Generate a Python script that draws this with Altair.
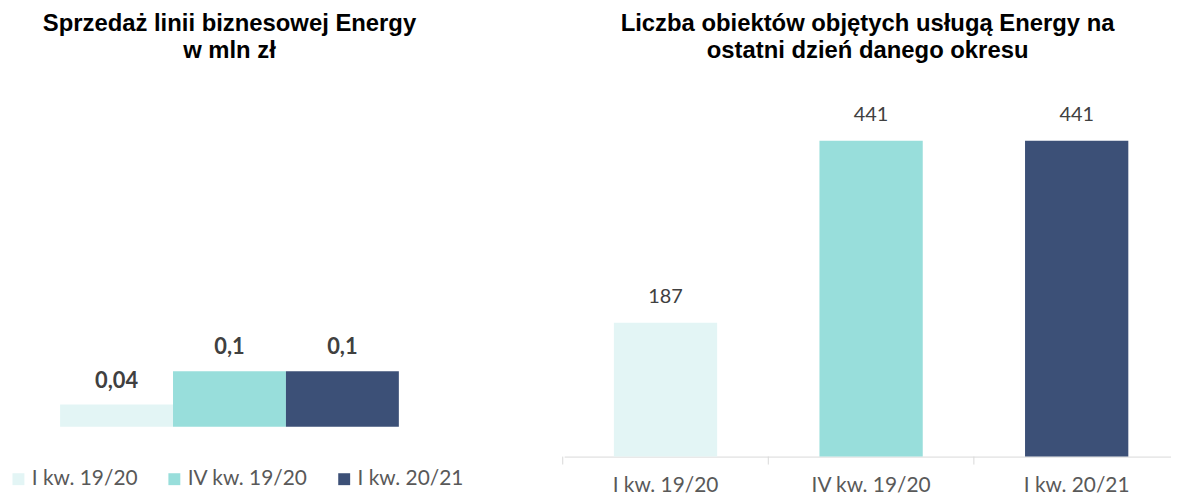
import altair as alt
import pandas as pd

categories = ["I kw. 19/20", "IV kw. 19/20", "I kw. 20/21"]
sales = [0.04, 0.1, 0.1]
objects = [187, 441, 441]
colors = ["#E3F5F5", "#98DEDB", "#3C5077"]

title_left = ["Sprzedaż linii biznesowej Energy", "w mln zł"]
title_right = ["Liczba obiektów objętych usługą Energy na", "ostatni dzień danego okresu"]

df_l = pd.DataFrame({"kategoria": categories, "wartosc": sales})
df_r = pd.DataFrame({"kategoria": categories, "liczba": objects})

def make_title(lines):
    return alt.TitleParams(
        text=lines, font="Liberation Sans", fontSize=24, fontWeight="bold",
        color="#000000", anchor="middle", lineHeight=28, offset=10,
    )

# ---------- left panel ----------
base_l = alt.Chart(df_l).encode(
    x=alt.X("kategoria:N", sort=categories, axis=None,
            scale=alt.Scale(paddingInner=0, paddingOuter=0.4614)),
    y=alt.Y("wartosc:Q", axis=None,
            scale=alt.Scale(domain=[0, 0.6357], nice=False, zero=True)),
)
bars_l = base_l.mark_bar().encode(
    color=alt.Color(
        "kategoria:N", sort=categories,
        scale=alt.Scale(domain=categories, range=colors),
        legend=alt.Legend(
            title=None, orient="none", legendX=0, legendY=398,
            direction="horizontal", symbolType="square", symbolSize=144,
            symbolStrokeWidth=0, labelFont="Lato", labelFontSize=21,
            labelColor="#595959", columnPadding=26, labelOffset=3, padding=0,
        ),
    )
)
text_l = base_l.transform_calculate(
    etykieta="replace(toString(datum.wartosc), '.', ',')"
).mark_text(
    font="Lato", fontWeight="bold", fontSize=22, color="#404040",
    baseline="middle", dy=-24,
).encode(text="etykieta:N")

left = alt.layer(bars_l, text_l).properties(
    width=446, height=356, title=make_title(title_left)
)

# ---------- right panel ----------
x_r = alt.X("kategoria:N", sort=categories, title=None,
            scale=alt.Scale(paddingInner=0.4976, paddingOuter=0.2247, align=0.538),
            axis=alt.Axis(labelAngle=0, labelFont="Lato", labelFontSize=21,
                          labelColor="#595959", domainColor="#D9D9D9",
                          ticks=False, labelPadding=18, domainWidth=1))
base_r = alt.Chart(df_r).encode(
    x=x_r,
    y=alt.Y("liczba:Q", axis=None,
            scale=alt.Scale(domain=[0, 535.4], nice=False, zero=True)),
)
bars_r = base_r.mark_bar().encode(
    color=alt.Color("kategoria:N", sort=categories,
                    scale=alt.Scale(domain=categories, range=colors),
                    legend=None)
)
text_r = base_r.mark_text(
    font="Lato", fontSize=20, color="#404040", baseline="middle", dy=-26,
).encode(text="liczba:Q")

# tick marks at the boundaries between categories
ticks_r = alt.Chart(df_r).mark_rule(color="#D9D9D9", strokeWidth=1, xOffset=-103.5).encode(
    x=alt.X("kategoria:N", sort=categories),
    y=alt.value(386), y2=alt.value(394),
)

right = alt.layer(bars_r, text_r, ticks_r).properties(
    width=611, height=386, title=make_title(title_right)
)

chart = alt.hconcat(left, right, spacing=114, bounds="flush").resolve_scale(
    color="independent", x="independent", y="independent"
).configure_view(stroke=None).properties(
    padding={"left": 0, "right": 0, "top": 2, "bottom": 0}
)

chart.save("out.html", embed_options={"renderer": "svg", "actions": False})
